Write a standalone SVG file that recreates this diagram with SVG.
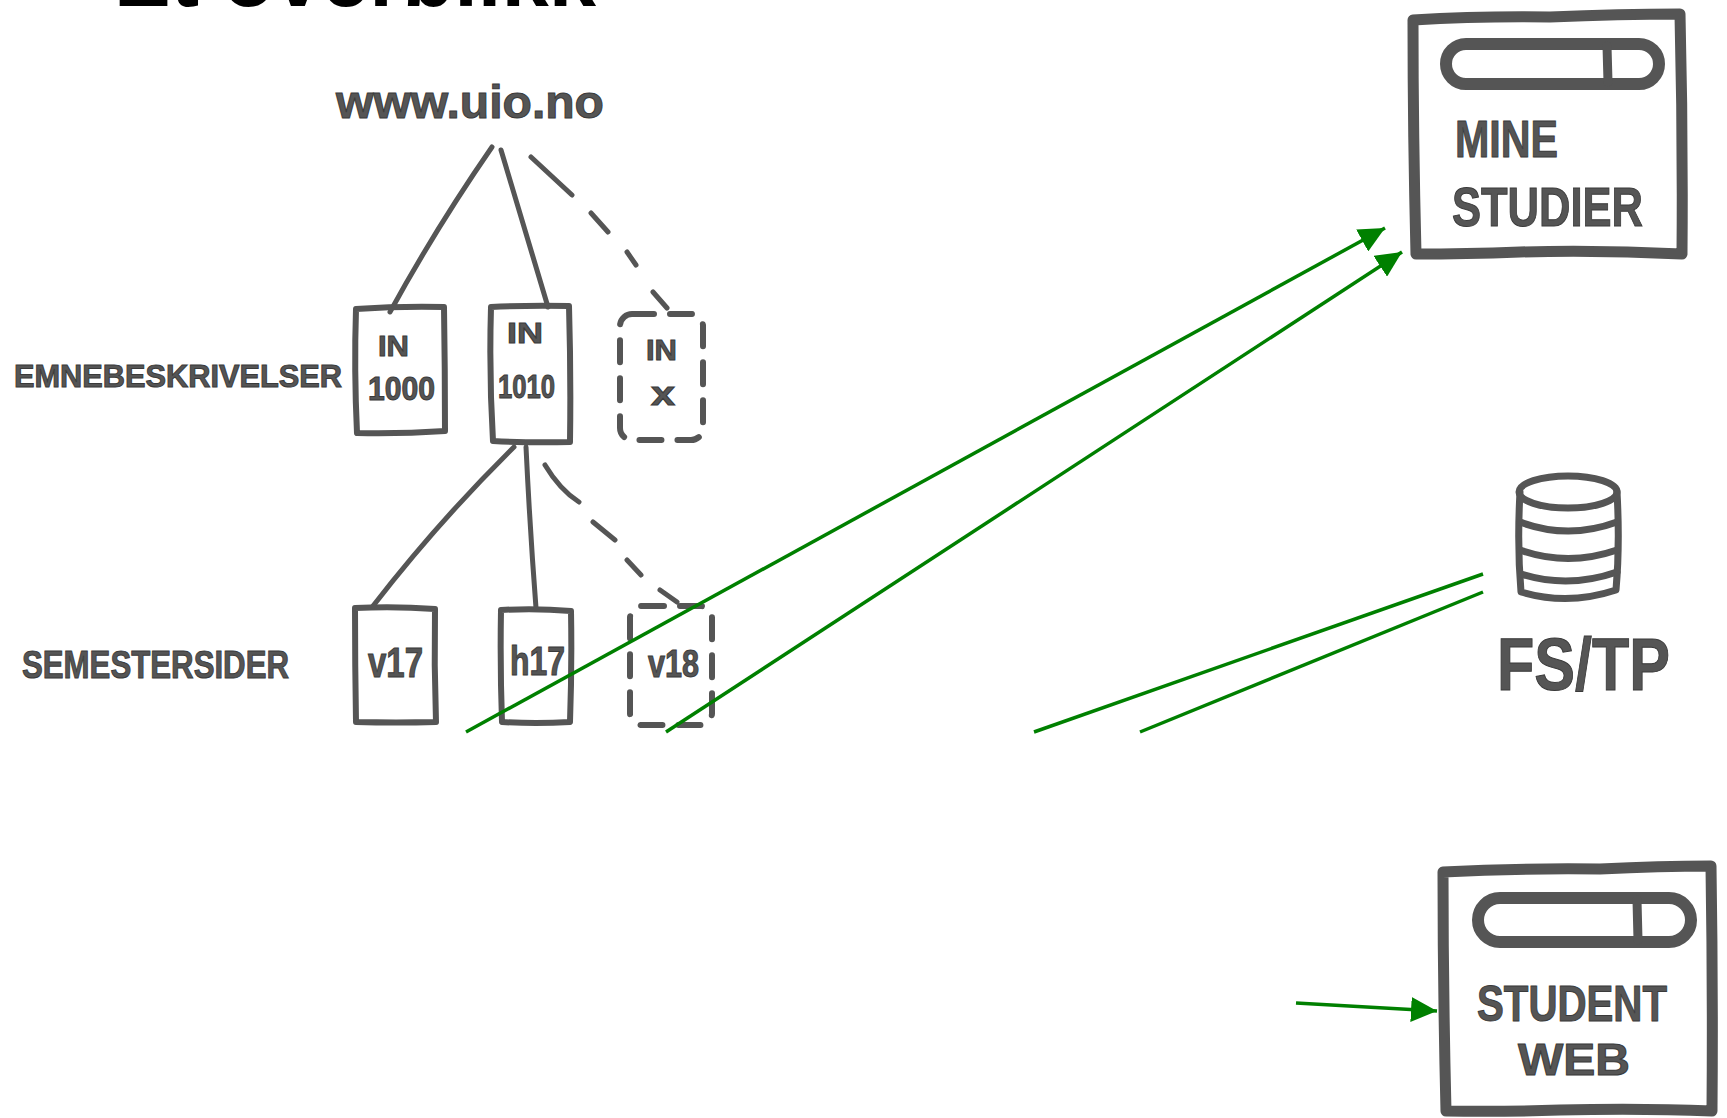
<svg xmlns="http://www.w3.org/2000/svg" width="1727" height="1118" viewBox="0 0 1727 1118">
<defs>
<style>
.title{font-family:"Liberation Sans",Arial,sans-serif;font-weight:bold;fill:#000}
.hand{font-family:"Liberation Sans",Arial,sans-serif;font-weight:bold;fill:#555;stroke:#3a3a3a;stroke-width:1}
.ink{fill:none;stroke:#555;stroke-linecap:round;stroke-linejoin:round}
.box{stroke-width:6}
.dash{stroke-dasharray:22 16}
.thick{stroke-width:11}
.link{stroke-width:5}
.green{fill:none;stroke:#008000;stroke-width:3.5}
</style>
<marker id="arrow" markerUnits="userSpaceOnUse" markerWidth="26" markerHeight="25" refX="26" refY="12.5" orient="auto">
<path d="M0,0 L26,12.5 L0,25 Z" fill="#008000"/>
</marker>
</defs>
<rect width="1727" height="1118" fill="#fff"/>

<g id="title">
<text class="title" x="114" y="6" font-size="86" textLength="482" lengthAdjust="spacingAndGlyphs">Et overblikk</text>
</g>

<g id="node-www">
<text class="hand" x="336" y="118" font-size="46" textLength="268" lengthAdjust="spacingAndGlyphs">www.uio.no</text>
</g>

<g id="label-emne">
<text class="hand" x="14" y="387" font-size="32" textLength="328" lengthAdjust="spacingAndGlyphs">EMNEBESKRIVELSER</text>
</g>

<g id="node-in1000">
<path class="ink box" d="M356,309 Q400,306 444,307 Q445,370 445,431 Q400,434 357,433 Q354,370 356,309 Z"/>
<text class="hand" x="378" y="356" font-size="30" textLength="31" lengthAdjust="spacingAndGlyphs">IN</text>
<text class="hand" x="368" y="400" font-size="33" textLength="67" lengthAdjust="spacingAndGlyphs">1000</text>
</g>

<g id="node-in1010">
<path class="ink box" d="M491,307 Q530,305 569,306 Q571,375 570,442 Q531,443 493,441 Q489,375 491,307 Z"/>
<text class="hand" x="507" y="343" font-size="30" textLength="36" lengthAdjust="spacingAndGlyphs">IN</text>
<text class="hand" x="498" y="398" font-size="33" textLength="57" lengthAdjust="spacingAndGlyphs">1010</text>
</g>

<g id="node-inx">
<rect class="ink box dash" x="620" y="314" width="83" height="126" rx="12"/>
<text class="hand" x="646" y="360" font-size="30" textLength="31" lengthAdjust="spacingAndGlyphs">IN</text>
<text class="hand" x="651" y="405" font-size="34" textLength="24" lengthAdjust="spacingAndGlyphs">x</text>
</g>

<g id="label-semester">
<text class="hand" x="22" y="678" font-size="39" textLength="267" lengthAdjust="spacingAndGlyphs">SEMESTERSIDER</text>
</g>

<g id="node-v17">
<path class="ink box" d="M355,608 Q395,606 435,609 Q434,665 436,722 Q396,723 356,722 Q355,665 355,608 Z"/>
<text class="hand" x="368" y="677" font-size="42" textLength="55" lengthAdjust="spacingAndGlyphs">v17</text>
</g>

<g id="node-h17">
<path class="ink box" d="M501,610 Q536,608 571,611 Q572,666 570,722 Q536,724 502,722 Q500,666 501,610 Z"/>
<text class="hand" x="510" y="675" font-size="40" textLength="55" lengthAdjust="spacingAndGlyphs">h17</text>
</g>

<g id="node-v18">
<rect class="ink box dash" x="630" y="606" width="82" height="119" rx="12"/>
<text class="hand" x="648" y="677" font-size="38" textLength="51" lengthAdjust="spacingAndGlyphs">v18</text>
</g>

<g id="node-mine-studier">
<path class="ink thick" d="M1413,20 Q1480,16 1550,17 Q1620,14 1680,14 Q1683,135 1682,254 Q1600,250 1520,252 Q1465,254 1416,254 Q1413,135 1413,20 Z"/>
<rect class="ink" stroke-width="12" x="1446" y="44" width="213" height="40" rx="20"/>
<path class="ink" stroke-width="9" d="M1607,46 L1608,82"/>
<text class="hand" x="1455" y="157" font-size="52" textLength="103" lengthAdjust="spacingAndGlyphs">MINE</text>
<text class="hand" x="1452" y="226" font-size="56" textLength="191" lengthAdjust="spacingAndGlyphs">STUDIER</text>
</g>

<g id="node-fstp">
<ellipse class="ink" stroke-width="7" cx="1568" cy="492" rx="49" ry="16"/>
<path class="ink" stroke-width="7" d="M1520,492 Q1517,545 1521,592 Q1568,606 1616,590 Q1620,545 1617,492"/>
<path class="ink" stroke-width="7" d="M1520,522 Q1568,540 1617,522 M1520,550 Q1568,567 1617,550 M1521,574 Q1568,589 1617,572"/>
<text class="hand" x="1497" y="690" font-size="74" textLength="173" lengthAdjust="spacingAndGlyphs">FS/TP</text>
</g>

<g id="node-studentweb">
<path class="ink thick" d="M1443,872 Q1520,868 1600,869 Q1660,866 1711,866 Q1713,990 1712,1111 Q1640,1108 1560,1110 Q1500,1112 1446,1111 Q1443,990 1443,872 Z"/>
<rect class="ink" stroke-width="12" x="1478" y="898" width="213" height="44" rx="22"/>
<path class="ink" stroke-width="9" d="M1637,900 L1638,940"/>
<text class="hand" x="1477" y="1021" font-size="50" textLength="190" lengthAdjust="spacingAndGlyphs">STUDENT</text>
<text class="hand" x="1518" y="1075" font-size="44" textLength="112" lengthAdjust="spacingAndGlyphs">WEB</text>
</g>

<g id="connectors">
<path class="ink link" d="M492,147 Q436,228 390,312"/>
<path class="ink link" d="M501,150 L548,307"/>
<path class="ink link" d="M531,157 L572,195 M591,213 L608,232 M627,252 L636,265 M653,292 L667,308"/>
<path class="ink link" d="M514,447 Q438,522 373,606"/>
<path class="ink link" d="M526,447 Q530,530 536,608"/>
<path class="ink link" d="M545,465 Q560,490 579,502 M593,522 L615,540 M627,560 L641,575 M660,590 L677,602"/>
<path class="green" d="M466,732 L1385,228" marker-end="url(#arrow)"/>
<path class="green" d="M666,732 L1402,252" marker-end="url(#arrow)"/>
<path class="green" d="M1034,732 L1483,574"/>
<path class="green" d="M1140,732 L1483,592"/>
<path class="green" d="M1296,1003 L1437,1011" marker-end="url(#arrow)"/>
</g>
</svg>
